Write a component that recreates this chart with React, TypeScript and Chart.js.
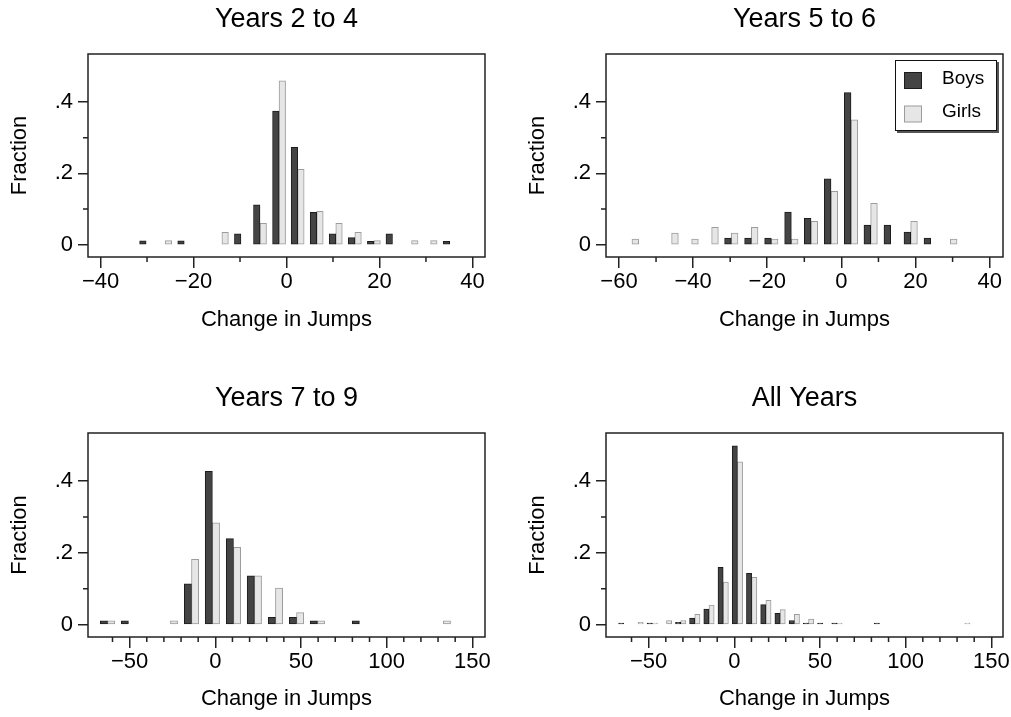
import React, { useEffect, useRef } from 'react';
import { Chart, registerables } from 'chart.js';

Chart.register(...registerables);

const FONT = '"Liberation Sans", Arial, Helvetica, sans-serif';

// ---------- data ----------
const seriesLabels = ['Boys', 'Girls'];
const xAxisTitle = 'Change in Jumps';
const yAxisTitle = 'Fraction';
const yTicks = [0, 0.2, 0.4];
const yMinorTicks = [0.1, 0.3];
const yRange = [-0.034, 0.534];

// Years 2 to 4
const title1 = 'Years 2 to 4';
const bins1 = [-30.2, -26.1, -22.0, -18.0, -13.9, -9.8, -5.7, -1.6, 2.4, 6.5, 10.6, 14.7, 18.8, 22.8, 26.9, 31.0, 35.1];
const boys1 = [0.011, null, 0.011, null, null, 0.031, 0.112, 0.374, 0.273, 0.091, 0.031, 0.020, 0.010, 0.031, null, null, 0.010];
const girls1 = [null, 0.012, null, null, 0.035, null, 0.060, 0.459, 0.211, 0.094, 0.060, 0.035, 0.012, null, 0.012, 0.012, null];
const xTicks1 = [-40, -20, 0, 20, 40];
const xMinor1 = [-30, -10, 10, 30];
const xRange1 = [-42.7, 42.7];

// Years 5 to 6
const title2 = 'Years 5 to 6';
const bins2 = [-56.5, -51.1, -45.8, -40.4, -35.0, -29.7, -24.3, -18.9, -13.5, -8.2, -2.8, 2.6, 7.9, 13.3, 18.7, 24.1, 29.4];
const boys2 = [null, null, null, null, null, 0.019, 0.019, 0.019, 0.092, 0.074, 0.185, 0.426, 0.055, 0.055, 0.036, 0.019, null];
const girls2 = [0.016, null, 0.033, 0.016, 0.049, 0.033, 0.049, 0.016, 0.016, 0.066, 0.150, 0.350, 0.116, null, 0.066, null, 0.016];
const xTicks2 = [-60, -40, -20, 0, 20, 40];
const xMinor2 = [-50, -30, -10, 10, 30];
const xRange2 = [-63.5, 43.6];

// Years 7 to 9
const title3 = 'Years 7 to 9';
const bins3 = [-62.9, -50.7, -38.4, -26.2, -13.9, -1.7, 10.6, 22.8, 35.1, 47.4, 59.6, 71.9, 84.1, 96.4, 108.6, 120.9, 133.1];
const boys3 = [0.011, 0.011, null, null, 0.114, 0.427, 0.240, 0.136, 0.021, 0.021, 0.011, null, 0.011, null, null, null, null];
const girls3 = [0.011, null, null, 0.011, 0.182, 0.284, 0.216, 0.136, 0.102, 0.034, 0.011, null, null, null, null, null, 0.011];
const xTicks3 = [-50, 0, 50, 100, 150];
const xMinor3 = [-60, -40, -30, -20, -10, 10, 20, 30, 40, 60, 70, 80, 90, 110, 120, 130, 140];
const xRange3 = [-74.3, 157.4];

// All Years
const title4 = 'All Years';
const bins4 = [-64.5, -56.2, -47.9, -39.6, -31.3, -23.1, -14.8, -6.5, 1.8, 10.1, 18.4, 26.7, 35.0, 43.3, 51.6, 59.9, 68.1, 76.4, 84.7, 93.0, 101.3, 109.6, 117.9, 126.2, 134.5];
const boys4 = [0.005, null, 0.005, null, 0.007, 0.019, 0.044, 0.160, 0.498, 0.143, 0.056, 0.032, 0.012, 0.005, 0.005, 0.005, null, null, 0.005, null, null, null, null, null, null];
const girls4 = [null, 0.007, 0.005, 0.012, 0.012, 0.029, 0.055, 0.119, 0.454, 0.132, 0.068, 0.042, 0.029, 0.016, null, 0.005, null, null, null, null, null, null, null, null, 0.005];
const xTicks4 = [-50, 0, 50, 100, 150];
const xMinor4 = [-60, -40, -30, -20, -10, 10, 20, 30, 40, 60, 70, 80, 90, 110, 120, 130, 140];
const xRange4 = [-74.9, 156.8];

// ---------- styling ----------
const BOYS_FILL = '#444444';
const BOYS_BORDER = '#1c1c1c';
const GIRLS_FILL = '#e6e6e6';
const GIRLS_BORDER = '#9c9c9c';
const INK = '#222222';

type PanelSpec = {
  title: string;
  bins: number[];
  boys: (number | null)[];
  girls: (number | null)[];
  xTicks: number[];
  xMinor: number[];
  xRange: number[];
  barPx: number;
  legend: boolean;
  left: number;
  top: number;
  width: number;
  height: number;
  areaLeft: number;
  areaRight: number;
  areaBottom: number;
  xTitlePad: number;
};

const panels: PanelSpec[] = [
  { title: title1, bins: bins1, boys: boys1, girls: girls1, xTicks: xTicks1, xMinor: xMinor1, xRange: xRange1, barPx: 6.5, legend: false,
    left: 0, top: 0, width: 505, height: 358, areaLeft: 88, areaRight: 485, areaBottom: 257, xTitlePad: 25 },
  { title: title2, bins: bins2, boys: boys2, girls: girls2, xTicks: xTicks2, xMinor: xMinor2, xRange: xRange2, barPx: 6.7, legend: true,
    left: 518, top: 0, width: 493, height: 358, areaLeft: 88, areaRight: 485, areaBottom: 257, xTitlePad: 25 },
  { title: title3, bins: bins3, boys: boys3, girls: girls3, xTicks: xTicks3, xMinor: xMinor3, xRange: xRange3, barPx: 7.2, legend: false,
    left: 0, top: 379, width: 505, height: 338, areaLeft: 88, areaRight: 485, areaBottom: 258, xTitlePad: 5 },
  { title: title4, bins: bins4, boys: boys4, girls: girls4, xTicks: xTicks4, xMinor: xMinor4, xRange: xRange4, barPx: 5.2, legend: false,
    left: 518, top: 379, width: 493, height: 338, areaLeft: 88, areaRight: 485, areaBottom: 258, xTitlePad: 5 },
];

const toPoints = (bins: number[], vals: (number | null)[]) =>
  bins.map((x, i) => ({ x, y: vals[i] })).filter((p) => p.y !== null && p.y !== undefined);

const fmtX = (v: number) => (v < 0 ? '\u2212' + Math.abs(v) : String(v));
const fmtY = (v: number) => (v === 0 ? '0' : String(Number(v.toFixed(2))).replace(/^0/, ''));

const framePlugin = (xMinor: number[], yMinor: number[], legend: boolean) => ({
  id: 'frameAndMinor',
  afterDraw(chart: any) {
    const { ctx, chartArea: a, scales } = chart;
    ctx.save();
    ctx.strokeStyle = INK;
    ctx.lineWidth = 1.5;
    ctx.strokeRect(a.left, a.top, a.right - a.left, a.bottom - a.top);
    ctx.beginPath();
    xMinor.forEach((v) => {
      const px = scales.x.getPixelForValue(v);
      ctx.moveTo(px, a.bottom);
      ctx.lineTo(px, a.bottom + 5);
    });
    yMinor.forEach((v) => {
      const py = scales.y.getPixelForValue(v);
      ctx.moveTo(a.left, py);
      ctx.lineTo(a.left - 5, py);
    });
    ctx.stroke();

    if (legend) {
      const bw = 102;
      const bh = 71;
      const bx = a.right - 6 - bw;
      const by = a.top + 6;
      ctx.fillStyle = '#555555';
      ctx.fillRect(bx + 2, by + 2, bw, bh);
      ctx.fillStyle = '#ffffff';
      ctx.fillRect(bx, by, bw, bh);
      ctx.lineWidth = 1;
      ctx.strokeStyle = '#111111';
      ctx.strokeRect(bx + 0.5, by + 0.5, bw - 1, bh - 1);
      chart.data.datasets.forEach((ds: any, i: number) => {
        const sy = by + 12 + i * 33.5;
        ctx.fillStyle = ds.borderColor;
        ctx.fillRect(bx + 9, sy, 18, 17);
        ctx.fillStyle = ds.backgroundColor;
        ctx.fillRect(bx + 10, sy + 1, 16, 15);
        ctx.fillStyle = '#000000';
        ctx.font = `19px ${FONT}`;
        ctx.textBaseline = 'middle';
        ctx.textAlign = 'left';
        ctx.fillText(ds.label, bx + 47, sy + 6.5);
      });
    }
    ctx.restore();
  },
});

function Panel({ spec }: { spec: PanelSpec }) {
  const ref = useRef<HTMLCanvasElement | null>(null);
  useEffect(() => {
    if (!ref.current) return;
    const s = spec;
    const tickFont = { family: FONT, size: 22, weight: 'normal' as const };
    const chart = new Chart(ref.current, {
      type: 'bar',
      data: {
        datasets: [
          {
            label: seriesLabels[0],
            data: toPoints(s.bins, s.boys) as any,
            backgroundColor: BOYS_FILL,
            borderColor: BOYS_BORDER,
            borderWidth: 1,
            borderSkipped: false,
            barThickness: s.barPx,
          },
          {
            label: seriesLabels[1],
            data: toPoints(s.bins, s.girls) as any,
            backgroundColor: GIRLS_FILL,
            borderColor: GIRLS_BORDER,
            borderWidth: 1,
            borderSkipped: false,
            barThickness: s.barPx,
          },
        ],
      },
      options: {
        responsive: false,
        animation: false,
        devicePixelRatio: 1,
        events: [],
        layout: { padding: { left: 0, top: 0, bottom: 0, right: s.width - s.areaRight } },
        plugins: {
          legend: { display: false },
          tooltip: { enabled: false },
          title: {
            display: true,
            fullSize: false,
            text: s.title,
            color: '#000000',
            font: { family: FONT, size: 27, weight: 'normal', lineHeight: 1 },
            padding: { top: 6.5, bottom: 20.5 },
          },
        },
        scales: {
          x: {
            type: 'linear',
            min: s.xRange[0],
            max: s.xRange[1],
            offset: false,
            bounds: 'data',
            afterBuildTicks: (sc: any) => {
              sc.ticks = s.xTicks.map((v) => ({ value: v }));
            },
            afterFit: (sc: any) => {
              sc.height = s.height - s.areaBottom;
            },
            ticks: {
              autoSkip: false,
              maxRotation: 0,
              minRotation: 0,
              padding: 1,
              color: '#000000',
              font: tickFont,
              callback: (v: any) => fmtX(Number(v)),
            },
            grid: {
              display: true,
              drawOnChartArea: false,
              drawTicks: true,
              offset: false,
              tickLength: 11,
              color: INK,
              tickColor: INK,
              lineWidth: 1.5,
              tickWidth: 1.5,
            },
            border: { display: false },
            title: {
              display: true,
              text: xAxisTitle,
              color: '#000000',
              font: { family: FONT, size: 22, weight: 'normal' },
              padding: { top: 0, bottom: s.xTitlePad },
            },
          },
          y: {
            type: 'linear',
            min: yRange[0],
            max: yRange[1],
            bounds: 'data',
            afterBuildTicks: (sc: any) => {
              sc.ticks = yTicks.map((v) => ({ value: v }));
            },
            afterFit: (sc: any) => {
              sc.width = s.areaLeft;
            },
            ticks: {
              padding: 5,
              color: '#000000',
              font: tickFont,
              callback: (v: any) => fmtY(Number(v)),
            },
            grid: {
              display: true,
              drawOnChartArea: false,
              drawTicks: true,
              tickLength: 10,
              color: INK,
              tickColor: INK,
              lineWidth: 1.5,
              tickWidth: 1.5,
            },
            border: { display: false },
            title: {
              display: true,
              text: yAxisTitle,
              color: '#000000',
              font: { family: FONT, size: 22, weight: 'normal' },
              padding: { top: 7, bottom: 0 },
            },
          },
        },
      } as any,
      plugins: [framePlugin(s.xMinor, yMinorTicks, s.legend)],
    });
    return () => chart.destroy();
  }, [spec]);

  return (
    <canvas
      ref={ref}
      width={spec.width}
      height={spec.height}
      style={{ position: 'absolute', left: spec.left, top: spec.top, width: spec.width, height: spec.height }}
    />
  );
}

export default function App() {
  return (
    <div style={{ position: 'absolute', left: 0, top: 0, width: 1011, height: 717, background: '#ffffff', overflow: 'hidden' }}>
      {panels.map((p, i) => (
        <Panel key={i} spec={p} />
      ))}
    </div>
  );
}
